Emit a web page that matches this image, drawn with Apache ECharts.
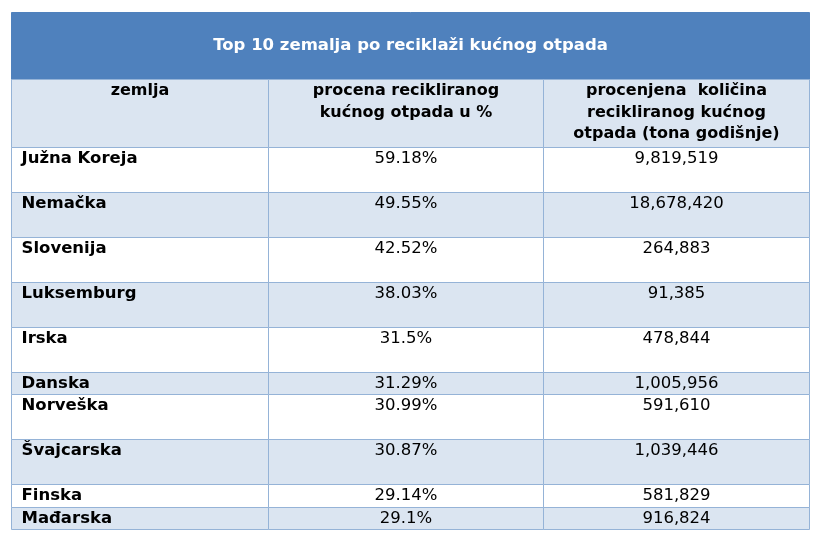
<!DOCTYPE html>
<html><head><meta charset="utf-8">
<script src="https://cdn.jsdelivr.net/npm/echarts@6/dist/echarts.min.js"></script>
<style>html,body{margin:0;padding:0;background:#fff}#c{width:821px;height:543px}</style>
</head><body><div id="c"></div>
<script>
// ---- data ----
const title = 'Top 10 zemalja po reciklaži kućnog otpada';
const headers = ['zemlja', 'procena recikliranog\nkućnog otpada u %', 'procenjena  količina\nrecikliranog kućnog\notpada (tona godišnje)'];
const countries = ['Južna Koreja', 'Nemačka', 'Slovenija', 'Luksemburg', 'Irska', 'Danska', 'Norveška', 'Švajcarska', 'Finska', 'Mađarska'];
const recycledPercent = [59.18, 49.55, 42.52, 38.03, 31.5, 31.29, 30.99, 30.87, 29.14, 29.1];
const recycledTonnes = [9819519, 18678420, 264883, 91385, 478844, 1005956, 591610, 1039446, 581829, 916824];

// ---- layout ----
const colWidths = [257, 275, 266];
const rowLines = [3, 3, 2, 2, 2, 2, 2, 1, 2, 2, 1, 1];
const colEdges = [0]; colWidths.forEach(w => colEdges.push(colEdges[colEdges.length - 1] + w));
const lineEdges = [0]; rowLines.forEach(n => lineEdges.push(lineEdges[lineEdges.length - 1] + n));

const cells = [];
cells.push({c0: 0, c1: 3, r: 0, kind: 'title', text: title});
headers.forEach((h, i) => cells.push({c0: i, c1: i + 1, r: 1, kind: 'head', text: h}));
countries.forEach((name, i) => {
  const r = i + 2, kind = i % 2 === 0 ? 'white' : 'tint';
  cells.push({c0: 0, c1: 1, r, kind, text: name, left: true, bold: true});
  cells.push({c0: 1, c1: 2, r, kind, text: recycledPercent[i] + '%'});
  cells.push({c0: 2, c1: 3, r, kind, text: recycledTonnes[i].toLocaleString('en-US')});
});
const data = cells.map(c => [colEdges[c.c0], colEdges[c.c1], lineEdges[c.r], lineEdges[c.r + 1]]);

const FONT = '"DejaVu Sans", Verdana, sans-serif';
const BLUE = '#4F81BD', TINT = '#DBE5F1', BORDER = '#95B3D7';

function renderItem(params, api) {
  const c = cells[params.dataIndex];
  const p0 = api.coord([api.value(0), api.value(2)]);
  const p1 = api.coord([api.value(1), api.value(3)]);
  const lineH = api.coord([0, 1])[1] - api.coord([0, 0])[1];
  const x0 = Math.round(p0[0]) + 0.5, x1 = Math.round(p1[0]) + 0.5;
  const y0 = Math.round(p0[1]) + 0.5, y1 = Math.round(p1[1]) + 0.5;
  const fill = c.kind === 'title' ? BLUE : (c.kind === 'white' ? '#ffffff' : TINT);
  const children = [{
    type: 'rect',
    shape: {x: x0, y: y0, width: x1 - x0, height: y1 - y0},
    style: {fill, stroke: c.kind === 'title' ? BLUE : BORDER, lineWidth: 1}
  }];
  let ts;
  if (c.kind === 'title') {
    ts = {text: c.text, x: (x0 + x1) / 2, y: (y0 + y1) / 2, align: 'center', verticalAlign: 'middle',
      fill: '#ffffff', font: 'bold 16.5px ' + FONT};
  } else if (c.kind === 'head') {
    ts = {text: c.text, x: (x0 + x1) / 2, y: y0 + 1, align: 'center', verticalAlign: 'top',
      lineHeight: 21.5, fill: '#000000', font: 'bold 16px ' + FONT};
  } else {
    ts = {text: c.text, x: c.left ? x0 + 10 : (x0 + x1) / 2, y: y0 + lineH / 2, align: c.left ? 'left' : 'center',
      verticalAlign: 'middle', fill: '#000000', font: (c.bold ? 'bold ' : '') + '16.5px ' + FONT};
  }
  children.push({type: 'text', style: ts});
  return {type: 'group', children};
}

const chart = echarts.init(document.getElementById('c'), null, {renderer: 'canvas'});
chart.setOption({
  animation: false,
  backgroundColor: '#ffffff',
  grid: {left: 11, right: 12, top: 12, bottom: 14},
  xAxis: {type: 'value', min: 0, max: colEdges[colEdges.length - 1], show: false},
  yAxis: {type: 'value', min: 0, max: lineEdges[lineEdges.length - 1], inverse: true, show: false},
  series: [{
    type: 'custom',
    renderItem,
    encode: {x: [0, 1], y: [2, 3]},
    data
  }]
});
</script></body></html>
